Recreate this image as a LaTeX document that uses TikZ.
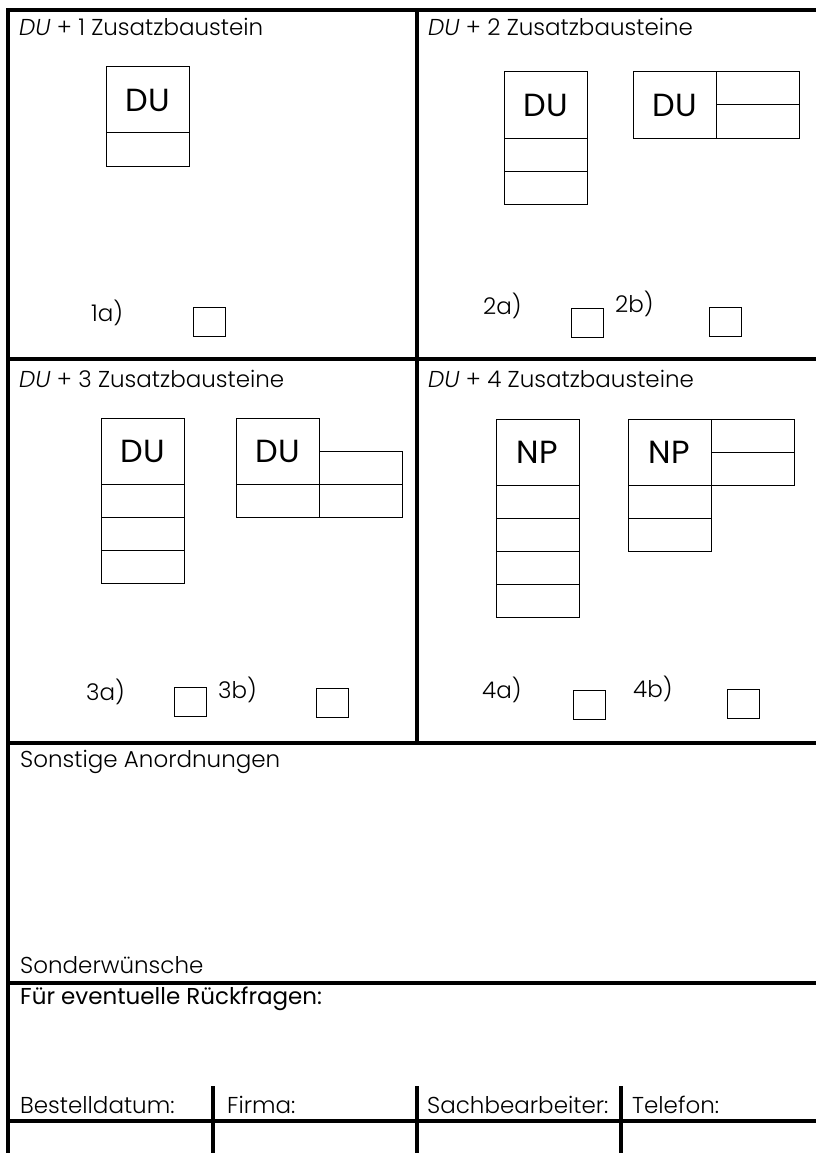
\documentclass[tikz,border=0pt]{standalone}
\usepackage{fontspec}
\setmainfont{Poppins}[UprightFont=* Light, ItalicFont=* Light Italic]
\newfontfamily\regfont{Poppins}
\usetikzlibrary{positioning}

\begin{document}
\begin{tikzpicture}[x=1pt, y=-1pt,
    frame/.style={line width=3.5pt},
    cell/.style={draw, line width=1pt, inner sep=0pt, outer sep=0pt,
        minimum width=83pt, minimum height=33pt},
    unit/.style={cell, minimum height=66pt, font=\regfont\fontsize{32}{32}\selectfont},
    tick/.style={draw, line width=1pt, inner sep=0pt, outer sep=0pt,
        minimum width=32pt, minimum height=29pt, anchor=north west},
    head/.style={anchor=base west, inner sep=0pt, font=\fontsize{23}{23}\selectfont}]
        \useasboundingbox (0,0) rectangle (816,1153);

        % Headings
        \node[head] (t1) at (19,36) {\textit{DU} + 1 Zusatzbaustein};
        \node[head] (t2) at (428,36) {\textit{DU} + 2 Zusatzbausteine};
        \node[head] (t3) at (19,387) {\textit{DU} + 3 Zusatzbausteine};
        \node[head] (t4) at (428,387) {\textit{DU} + 4 Zusatzbausteine};

        % 1a
        \node[unit, anchor=north west] (du1) at (106,67) {DU};
        \node[cell, below=0pt of du1] (du1c1) {};

        % 2a
        \node[unit, anchor=north west] (du2a) at (504,72) {DU};
        \node[cell, below=0pt of du2a] (du2ac1) {};
        \node[cell, below=0pt of du2ac1] (du2ac2) {};

        % 2b
        \node[unit, anchor=north west] (du2b) at (633,72) {DU};
        \node[cell, anchor=north west] (du2bc1) at (du2b.north east) {};
        \node[cell, below=0pt of du2bc1] (du2bc2) {};

        % 3a
        \node[unit, anchor=north west] (du3a) at (101,418) {DU};
        \node[cell, below=0pt of du3a] (du3ac1) {};
        \node[cell, below=0pt of du3ac1] (du3ac2) {};
        \node[cell, below=0pt of du3ac2] (du3ac3) {};

        % 3b
        \node[unit, anchor=north west] (du3b) at (236,418) {DU};
        \node[cell, anchor=south west] (du3bc1) at (du3b.south east) {};
        \node[cell, below=0pt of du3b] (du3bc2) {};
        \node[cell, below=0pt of du3bc1] (du3bc3) {};

        % 4a
        \node[unit, anchor=north west] (np4a) at (496,419) {NP};
        \node[cell, below=0pt of np4a] (np4ac1) {};
        \node[cell, below=0pt of np4ac1] (np4ac2) {};
        \node[cell, below=0pt of np4ac2] (np4ac3) {};
        \node[cell, below=0pt of np4ac3] (np4ac4) {};

        % 4b
        \node[unit, anchor=north west] (np4b) at (628,419) {NP};
        \node[cell, anchor=north west] (np4bc1) at (np4b.north east) {};
        \node[cell, below=0pt of np4bc1] (np4bc2) {};
        \node[cell, below=0pt of np4b] (np4bc3) {};
        \node[cell, below=0pt of np4bc3] (np4bc4) {};

        % Choice labels and boxes
        \node[head] (l1a) at (91,321) {1a)};
        \node[tick] (c1a) at (193,307) {};
        \node[head] (l2a) at (483,314) {2a)};
        \node[tick] (c2a) at (571,308) {};
        \node[head] (l2b) at (615,312) {2b)};
        \node[tick] (c2b) at (709,307) {};
        \node[head] (l3a) at (86,700) {3a)};
        \node[tick] (c3a) at (174,687) {};
        \node[head] (l3b) at (218,698) {3b)};
        \node[tick] (c3b) at (316,688) {};
        \node[head] (l4a) at (482,698) {4a)};
        \node[tick] (c4a) at (573,690) {};
        \node[head] (l4b) at (633,697) {4b)};
        \node[tick] (c4b) at (727,689) {};

        % Lower part
        \node[head] (sonst) at (20,767) {Sonstige Anordnungen};
        \node[head] (wunsch) at (20,973) {Sonderwünsche};
        \node[head, font=\regfont\fontsize{23}{23}\selectfont] (frage) at (20,1004) {Für eventuelle Rückfragen:};
        \node[head] (datum) at (20,1113) {Bestelldatum:};
        \node[head] (firma) at (227,1113) {Firma:};
        \node[head] (sachb) at (427,1113) {Sachbearbeiter:};
        \node[head] (telef) at (632,1113) {Telefon:};

        % Frame
        \draw[frame] (8,1153) -- (8,10) -- (816,10);
        \draw[frame] (417,10) -- (417,743);
        \draw[frame] (8,359) -- (816,359);
        \draw[frame] (8,743) -- (816,743);
        \draw[frame] (8,983) -- (816,983);
        \draw[frame] (8,1121) -- (816,1121);
        \draw[frame] (213,1086) -- (213,1153);
        \draw[frame] (417,1086) -- (417,1153);
        \draw[frame] (621,1086) -- (621,1153);
    \end{tikzpicture}
\end{document}
